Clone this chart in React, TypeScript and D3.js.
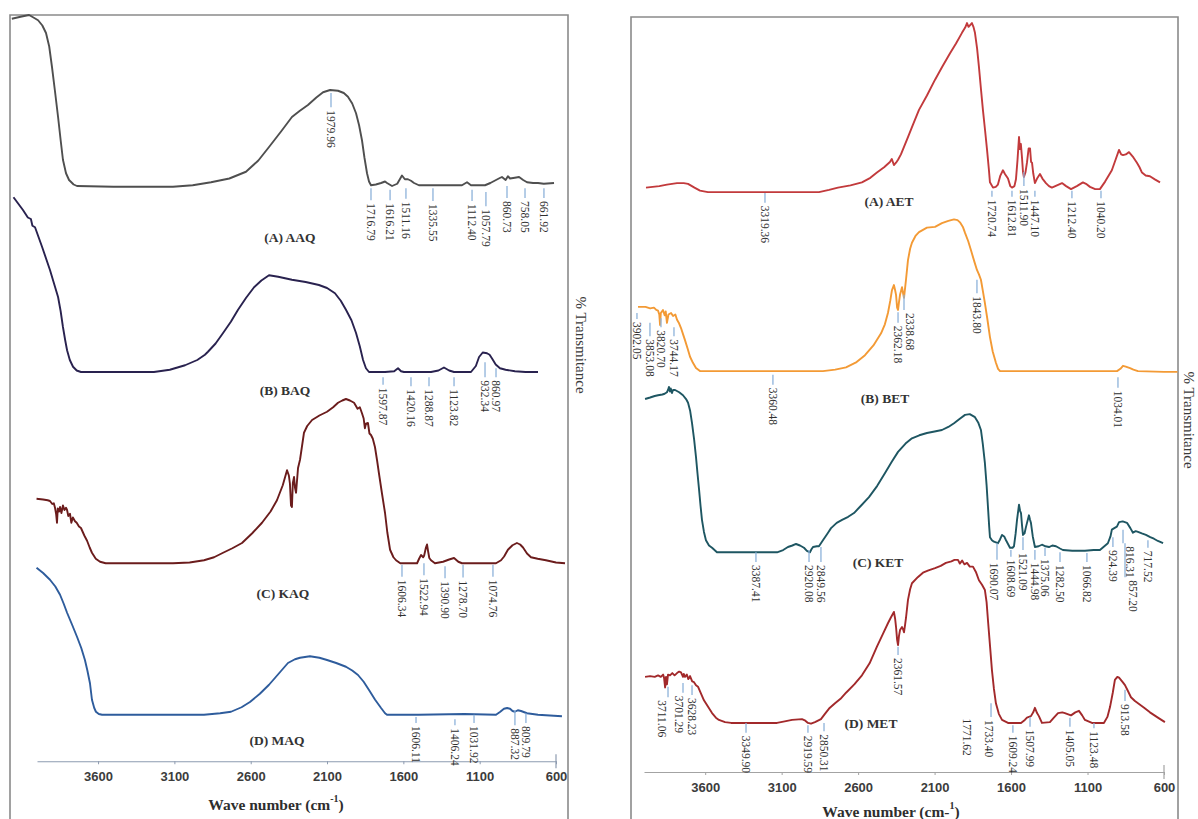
import { useRef, useEffect } from 'react';
import * as d3 from 'd3';

type Pt = [number, number];
// [label, wavenumber of tick, tick top, tick bottom, wavenumber of label if shifted]
type Peak = [string, number, number, number, number?];

const WAVE_TICKS = [3600, 3100, 2600, 2100, 1600, 1100, 600];

// ---- left panel: aqueous extracts ----
const AAQ: Pt[] = [
  [4165, 99.5], [4100, 99.8], [4052, 100], [4026, 99.7], [3993, 99.3], [3965, 98.6], [3941, 97.6], [3920, 95.8],
  [3902, 93.1], [3882, 89.8], [3862, 86.4], [3845, 83.3], [3830, 80.7], [3810, 78.9], [3790, 78], [3760, 77.4],
  [3738, 77.2], [3500, 77.1], [3300, 77.1], [3109, 77.1], [2980, 77.3], [2860, 77.7], [2740, 78.2], [2631, 79.1],
  [2550, 80.6], [2480, 82.4], [2400, 84.5], [2330, 86.4], [2280, 87.2], [2225, 88], [2170, 89], [2126, 89.7],
  [2080, 90], [2028, 89.9], [1990, 89.6], [1963, 89.1], [1935, 88.2], [1910, 86.9], [1890, 85.3], [1871, 83.3],
  [1855, 81], [1838, 78.9], [1825, 77.8], [1812, 77.3], [1780, 77.4], [1746, 77.6], [1720, 77.8], [1707, 77.6],
  [1674, 77.2], [1640, 77.5], [1609, 78.6], [1590, 78.1], [1570, 78.1], [1550, 77.9], [1530, 77.6], [1498, 77.3],
  [1400, 77.3], [1300, 77.3], [1216, 77.3], [1183, 77.7], [1157, 77.3], [1065, 77.3], [1030, 77.6], [993, 78],
  [965, 78.3], [954, 78.4], [930, 78], [915, 78.5], [901, 78.2], [870, 78.3], [842, 78.4], [815, 78], [790, 77.7],
  [750, 77.6], [718, 77.6], [680, 77.5], [613, 77.6],
];
const BAQ: Pt[] = [
  [4154, 75.7], [4092, 74], [4060, 73], [4040, 72.8], [4030, 71.9], [4013, 71.7], [3967, 69.1], [3915, 66],
  [3890, 64.3], [3862, 62.4], [3845, 60.5], [3830, 58.4], [3815, 56.6], [3803, 55.3], [3785, 54], [3764, 53.1],
  [3740, 52.6], [3712, 52.4], [3500, 52.4], [3234, 52.4], [3130, 52.7], [3030, 53.3], [2950, 54], [2900, 54.7],
  [2880, 55.1], [2830, 56.2], [2781, 57.6], [2730, 59.1], [2683, 60.7], [2630, 62.3], [2578, 63.7], [2530, 64.6],
  [2480, 65.3], [2420, 65.1], [2330, 64.7], [2240, 64.4], [2153, 64], [2100, 63.6], [2048, 62.9], [2010, 61.9],
  [1976, 60.7], [1940, 59.3], [1910, 57.6], [1885, 55.8], [1864, 54], [1845, 52.9], [1825, 52.4], [1720, 52.4],
  [1660, 52.5], [1635, 52.9], [1615, 52.5], [1596, 52.4], [1419, 52.4], [1370, 52.6], [1334, 53], [1300, 52.6],
  [1268, 52.4], [1157, 52.4], [1125, 53.2], [1104, 54.4], [1080, 55], [1052, 54.9], [1035, 54.7], [1019, 54.2],
  [995, 53.4], [967, 52.9], [930, 52.7], [869, 52.5], [800, 52.4], [718, 52.4],
];
const KAQ: Pt[] = [
  [4003, 35.5], [3960, 35.4], [3930, 35.3], [3915, 35.2], [3900, 34.8], [3890, 34.9], [3882, 34.3], [3875, 33.5],
  [3869, 32.3], [3864, 34.2], [3855, 33.8], [3849, 34.4], [3840, 33.6], [3830, 34.6], [3820, 34], [3810, 34.3],
  [3803, 34], [3795, 33.2], [3784, 33.5], [3775, 32.3], [3765, 33], [3751, 32.5], [3740, 32.3], [3725, 31.8],
  [3712, 31.6], [3690, 30.6], [3672, 29.9], [3655, 29], [3640, 28.3], [3615, 27.5], [3587, 27.1], [3550, 26.9],
  [3509, 26.9], [3300, 26.9], [3109, 26.9], [3000, 27], [2906, 27.3], [2840, 27.7], [2781, 28.3], [2720, 28.9],
  [2657, 29.6], [2590, 30.9], [2526, 32.3], [2470, 33.8], [2428, 35.3], [2390, 37.3], [2362, 39.3], [2350, 38.6],
  [2343, 37.5], [2336, 34.6], [2330, 34.4], [2324, 37.6], [2316, 38.4], [2310, 37], [2303, 36.3], [2290, 39.6],
  [2277, 40.7], [2264, 42.5], [2251, 44.3], [2230, 45.2], [2198, 46], [2150, 46.6], [2100, 47.1], [2060, 47.7],
  [2028, 48.3], [2000, 48.6], [1976, 48.8], [1950, 48.6], [1923, 48.3], [1900, 47.5], [1885, 47.7], [1871, 46.9],
  [1860, 46.2], [1852, 44.9], [1845, 45.5], [1832, 45.6], [1822, 44.2], [1812, 44], [1800, 43.5], [1786, 42.4],
  [1772, 40.6], [1760, 38.9], [1740, 36.2], [1720, 33.6], [1705, 31], [1687, 28.7], [1665, 27.7], [1648, 27.3],
  [1620, 26.9], [1596, 26.9], [1510, 26.9], [1497, 27.5], [1484, 28], [1470, 27.7], [1464, 27.9], [1452, 29],
  [1445, 29.4], [1438, 28.5], [1430, 27.6], [1419, 27.3], [1393, 26.9], [1340, 27.1], [1300, 27.4], [1268, 27.6],
  [1240, 27.1], [1216, 26.9], [1100, 26.9], [993, 26.9], [960, 27.3], [940, 27.8], [915, 28.7], [885, 29.3],
  [856, 29.6], [835, 29.4], [816, 29], [790, 28.2], [764, 27.7], [720, 27.5], [666, 27.3], [600, 27], [541, 26.9],
];
const MAQ: Pt[] = [
  [4003, 26.3], [3960, 25.6], [3915, 24.7], [3880, 23.8], [3849, 22.7], [3825, 21.5], [3803, 20.3], [3770, 18.7],
  [3738, 17.1], [3710, 15.6], [3686, 14], [3670, 12.6], [3653, 10.9], [3640, 8.7], [3625, 7.6], [3614, 7.1],
  [3595, 6.8], [3574, 6.7], [3300, 6.7], [2906, 6.7], [2800, 6.9], [2729, 7.1], [2660, 7.7], [2605, 8.4],
  [2540, 9.5], [2480, 10.7], [2420, 12.1], [2356, 13.6], [2310, 14.1], [2277, 14.3], [2212, 14.5], [2150, 14.3],
  [2100, 14], [2040, 13.6], [1976, 13.1], [1935, 12.6], [1897, 12], [1860, 11.1], [1825, 10], [1785, 8.7],
  [1746, 7.6], [1720, 6.9], [1707, 6.7], [1500, 6.7], [1200, 6.8], [993, 6.7], [965, 7.1], [941, 7.5], [920, 7.6],
  [901, 7.5], [885, 7.2], [869, 7.1], [850, 7.3], [829, 7.2], [790, 6.9], [718, 6.7], [640, 6.6], [561, 6.5],
];

const AAQ_PEAKS: Peak[] = [
  ['1979.96', 2074, 89.6, 87.7], ['1716.79', 1812, 76.9, 75.3], ['1616.21', 1687, 76.7, 75.3],
  ['1511.16', 1583, 76.9, 75.5], ['1335.55', 1406, 76.9, 75.2], ['1112.40', 1150, 76.7, 75.2],
  ['1057.79', 1059, 76.4, 74.5], ['860.73', 921, 77.2, 75.6], ['758.05', 803, 76.9, 75.6], ['661.92', 679, 76.9, 75.6],
];
const BAQ_PEAKS: Peak[] = [
  ['1597.87', 1733, 51.7, 50.7], ['1420.16', 1550, 51.7, 50.5], ['1288.87', 1432, 51.7, 50.5],
  ['1123.82', 1268, 51.7, 50.5], ['932.34', 1065, 53.7, 51.7], ['860.97', 993, 52.9, 51.7],
];
const KAQ_PEAKS: Peak[] = [
  ['1606.34', 1609, 26.7, 25.1], ['1522.94', 1465, 26.9, 25.3], ['1390.90', 1327, 26.5, 24.9],
  ['1278.70', 1209, 26.7, 25.0], ['1074.76', 1013, 26.7, 25.1],
];
const MAQ_PEAKS: Peak[] = [
  ['1606.11', 1517, 6.4, 5.6], ['1406.24', 1262, 6.1, 5.3], ['1031.92', 1137, 6.7, 5.6],
  ['887.32', 869, 7.3, 5.3], ['809.79', 797, 6.9, 5.6],
];

// ---- right panel: ethanolic extracts ----
const AET: Pt[] = [
  [3987, 77.4], [3900, 77.6], [3850, 77.8], [3784, 78], [3740, 78], [3712, 77.9], [3670, 77.4], [3634, 77],
  [3582, 76.8], [3300, 76.8], [3000, 76.8], [2856, 76.8], [2790, 77.1], [2732, 77.4], [2650, 77.7], [2575, 78.1],
  [2520, 78.7], [2477, 79.4], [2430, 80.1], [2392, 80.8], [2380, 81.2], [2366, 80.4], [2352, 80.7], [2339, 81.1],
  [2320, 81.8], [2300, 82.8], [2274, 84.1], [2240, 85.8], [2202, 87.7], [2150, 89.6], [2097, 91.7], [2050, 93.4],
  [1999, 95.2], [1960, 96.5], [1921, 97.9], [1900, 98.6], [1888, 99.2], [1878, 98.7], [1869, 98.9], [1856, 99.2],
  [1846, 98.7], [1836, 97.9], [1822, 95.8], [1810, 93.4], [1797, 90.5], [1784, 87.7], [1770, 85], [1757, 82.4],
  [1745, 79.8], [1738, 78.1], [1718, 77.4], [1700, 77.5], [1686, 77.8], [1670, 79], [1653, 79.7], [1640, 79.2],
  [1620, 78.6], [1605, 77.6], [1594, 77.4], [1578, 77.6], [1568, 78.5], [1558, 81], [1548, 84.1], [1542, 82.5],
  [1536, 83.2], [1529, 81.5], [1522, 79.5], [1516, 78.8], [1506, 79.4], [1496, 80.7], [1485, 82.6], [1476, 82.6],
  [1469, 80.8], [1463, 80.7], [1455, 79.3], [1444, 78], [1430, 78.6], [1411, 79.2], [1395, 78.6], [1372, 78],
  [1352, 77.6], [1333, 77.4], [1300, 77.7], [1267, 78], [1240, 77.6], [1208, 77.2], [1170, 77.6], [1130, 78.1],
  [1110, 77.9], [1084, 77.5], [1050, 77.2], [1019, 77.2], [985, 78.2], [941, 79.7], [915, 81.2], [894, 82.4],
  [880, 81.8], [868, 81.7], [850, 81.8], [829, 82.1], [800, 81.4], [777, 80.7], [760, 80.1], [744, 79.4],
  [720, 79], [692, 78.9], [660, 78.5], [626, 78.1],
];
const BET: Pt[] = [
  [4039, 61.6], [3990, 61.6], [3960, 61.4], [3935, 61.5], [3920, 61.2], [3908, 61.1], [3900, 60.6], [3895, 59.2],
  [3890, 60.8], [3876, 61.2], [3865, 60.5], [3858, 61], [3850, 59.5], [3840, 60.6], [3823, 60.8], [3810, 60.4],
  [3795, 60.6], [3784, 59.9], [3770, 59.4], [3758, 58.8], [3745, 58], [3732, 57.2], [3715, 56.1], [3699, 55],
  [3680, 54.2], [3660, 53.5], [3634, 53.1], [3300, 53.1], [2830, 53.1], [2750, 53.3], [2679, 53.6], [2610, 54.3],
  [2555, 55.2], [2500, 56.5], [2450, 58.1], [2425, 59.3], [2405, 60.8], [2390, 62.4], [2379, 63.8], [2366, 64.5],
  [2358, 63.8], [2352, 63.2], [2345, 61.5], [2339, 61.2], [2333, 62.2], [2326, 63.2], [2313, 64.2], [2306, 63.4],
  [2300, 62.8], [2293, 64.1], [2287, 65.2], [2274, 67.8], [2260, 69.3], [2248, 70.1], [2225, 71], [2202, 71.5],
  [2150, 72.1], [2097, 72.2], [2052, 72.7], [2010, 73], [1973, 73.2], [1950, 73.1], [1934, 72.8], [1915, 72.2],
  [1901, 71.4], [1880, 70.3], [1862, 69.1], [1840, 67.6], [1823, 66.5], [1810, 65.9], [1797, 65.2], [1785, 63.8],
  [1771, 62.1], [1755, 60], [1738, 57.6], [1720, 55.7], [1699, 54.2], [1685, 53.4], [1672, 53.1], [1300, 53.1],
  [907, 53.1], [885, 53.4], [868, 53.8], [850, 53.7], [822, 53.5], [800, 53.3], [770, 53.1], [600, 53.0], [512, 53.0],
];
const KET: Pt[] = [
  [3993, 49.4], [3960, 49.6], [3930, 49.8], [3908, 49.9], [3880, 50], [3865, 50.1], [3850, 50.3], [3843, 50.6],
  [3837, 51], [3830, 50.4], [3825, 50.8], [3817, 50.2], [3810, 50.6], [3797, 50.6], [3770, 50.3], [3745, 49.9],
  [3725, 49.4], [3712, 48.9], [3698, 47.8], [3686, 46.2], [3672, 44], [3660, 41.7], [3650, 39.5], [3640, 37.4],
  [3630, 35.2], [3621, 33.4], [3608, 31.8], [3595, 30.7], [3575, 30], [3555, 29.7], [3523, 29.1], [3300, 29.1],
  [3130, 29.1], [3090, 29.4], [3059, 29.8], [3030, 30], [3006, 30.2], [2980, 30], [2954, 29.7], [2935, 29.3],
  [2915, 29.1], [2905, 29.5], [2895, 29.8], [2870, 29.9], [2856, 29.9], [2843, 30.3], [2830, 30.7], [2800, 31.6],
  [2777, 32.3], [2740, 33], [2705, 33.4], [2665, 33.8], [2627, 34.3], [2580, 35.3], [2529, 36.4], [2475, 37.9],
  [2424, 39.6], [2380, 41.1], [2339, 42.4], [2290, 43.5], [2248, 44.2], [2200, 44.6], [2150, 44.9], [2100, 45.1],
  [2052, 45.3], [2010, 45.7], [1973, 46.2], [1935, 46.8], [1901, 47.3], [1870, 47.4], [1836, 47], [1815, 46.3],
  [1797, 45.3], [1785, 43.5], [1771, 40.9], [1760, 38], [1751, 35.1], [1743, 32.5], [1738, 31.1], [1725, 30.7],
  [1712, 30.5], [1686, 30.3], [1672, 30.8], [1659, 31.4], [1645, 31.2], [1633, 30.7], [1607, 29.7], [1590, 29.7],
  [1581, 29.9], [1570, 31.6], [1561, 33.4], [1548, 35.4], [1541, 34.6], [1535, 34.3], [1528, 32.6], [1522, 31.4],
  [1512, 31.6], [1502, 32.5], [1483, 34], [1476, 33.4], [1470, 33], [1458, 31.2], [1444, 29.8], [1420, 29.9],
  [1398, 30.1], [1375, 29.9], [1352, 29.8], [1330, 30], [1306, 29.9], [1280, 29.6], [1261, 29.4], [1200, 29.3],
  [1117, 29.3], [1060, 29.4], [1019, 29.4], [990, 29.9], [967, 30.3], [950, 31.2], [941, 32.1], [925, 32.3],
  [908, 32.5], [894, 33.1], [870, 33.2], [842, 33], [820, 32.3], [803, 31.7], [785, 31.9], [770, 31.8],
  [745, 31.6], [718, 31.4], [690, 31.1], [666, 30.9], [640, 30.6], [606, 30.3],
];
const MET: Pt[] = [
  [3993, 12.6], [3960, 12.7], [3930, 12.6], [3908, 12.8], [3890, 12.6], [3875, 12.9], [3869, 12.5], [3862, 11.2],
  [3856, 12.6], [3850, 11.6], [3843, 12.9], [3830, 12.8], [3815, 13.1], [3800, 12.8], [3784, 13.1], [3770, 13.3],
  [3758, 13.2], [3745, 12.6], [3740, 13], [3732, 12.6], [3720, 12.9], [3710, 12.3], [3699, 12.7], [3685, 12],
  [3673, 11.9], [3660, 11.5], [3647, 11.3], [3630, 10.5], [3608, 9.5], [3580, 8.6], [3555, 7.8], [3530, 7.2],
  [3510, 6.9], [3470, 6.6], [3431, 6.5], [3130, 6.5], [3080, 6.7], [3032, 6.9], [2967, 7], [2945, 6.8],
  [2928, 6.5], [2908, 6.4], [2882, 6.6], [2843, 7], [2817, 7.7], [2790, 8.4], [2751, 9.1], [2715, 9.7],
  [2679, 10.5], [2625, 11.6], [2575, 12.8], [2525, 14.4], [2477, 16.6], [2440, 18.2], [2405, 19.7], [2385, 20.5],
  [2366, 21.2], [2358, 20.3], [2352, 19.2], [2345, 17.5], [2339, 16.8], [2333, 18], [2326, 18.8], [2313, 19.2],
  [2306, 18.9], [2300, 18.5], [2293, 19.5], [2287, 20.4], [2274, 22.8], [2260, 24.2], [2248, 25], [2210, 25.8],
  [2176, 26.4], [2140, 26.7], [2097, 27], [2060, 27.3], [2026, 27.7], [1990, 27.9], [1970, 28.1], [1947, 28.1],
  [1935, 27.6], [1920, 28], [1905, 27.5], [1888, 27.7], [1870, 27.2], [1849, 27.2], [1830, 26.5], [1810, 25.4],
  [1790, 24.8], [1771, 24.1], [1760, 22.5], [1751, 20.1], [1738, 16.8], [1725, 13.5], [1712, 11], [1699, 9.1],
  [1680, 7.7], [1659, 6.9], [1620, 6.5], [1535, 6.5], [1510, 6.9], [1496, 7.2], [1470, 7.4], [1455, 7.9],
  [1444, 8.5], [1430, 7.8], [1418, 7.4], [1398, 6.5], [1346, 6.6], [1320, 7.2], [1293, 7.8], [1265, 7.9],
  [1248, 7.8], [1208, 7.5], [1180, 7.9], [1156, 8.1], [1135, 7.5], [1117, 6.9], [1071, 6.5], [993, 6.5],
  [970, 7.3], [953, 8.6], [935, 10.5], [921, 12.2], [905, 12.6], [894, 12.5], [870, 11.9], [855, 11.5],
  [835, 10.7], [816, 9.9], [790, 9.4], [770, 9.1], [730, 8.5], [692, 7.9], [640, 7.2], [594, 6.6],
];

const AET_PEAKS: Peak[] = [
  ['3319.36', 3209, 76.7, 75.4], ['1720.74', 1725, 77.0, 76.2], ['1612.81', 1594, 77.0, 76.2],
  ['1511.90', 1516, 79.5, 77.6], ['1447.10', 1444, 77.0, 76.2], ['1212.40', 1202, 77.0, 76.0],
  ['1040.20', 1012, 77.0, 76.0],
];
const BET_PEAKS: Peak[] = [
  ['3902.05', 4046, 60.8, 60.0], ['3853.08', 3961, 59.5, 57.7], ['3820.70', 3889, 60.1, 58.9],
  ['3744.17', 3804, 58.9, 57.7], ['2362.18', 2339, 60.9, 59.5], ['2338.68', 2300, 63.2, 61.2, 2261],
  ['1843.80', 1823, 65.2, 63.4], ['3360.48', 3157, 52.6, 51.3], ['1034.01', 901, 52.3, 50.9],
];
const KET_PEAKS: Peak[] = [
  ['3387.41', 3268, 29.1, 27.8], ['2920.08', 2921, 29.4, 27.8], ['2849.56', 2843, 29.8, 27.8],
  ['1690.07', 1692, 30.3, 28.1, 1712], ['1608.69', 1601, 29.4, 28.5], ['1521.09', 1522, 31.1, 29.4],
  ['1444.98', 1444, 29.4, 28.1], ['1375.06', 1378, 29.7, 28.6], ['1282.50', 1280, 29.1, 27.8],
  ['1066.82', 1104, 29.0, 27.8], ['924.39', 934, 31.1, 29.8], ['816.31', 868, 32.1, 30.3, 822],
  ['857.20', 855, 30.3, 25.8, 803], ['717.52', 705, 30.7, 29.7],
];
const MET_PEAKS: Peak[] = [
  ['3711.06', 3843, 11.3, 9.9, 3882], ['3701.29', 3745, 11.8, 10.5, 3771], ['3628.23', 3686, 11.5, 10.2],
  ['3349.90', 3333, 6.5, 5.2], ['2919.59', 2928, 6.2, 5.2], ['2850.31', 2823, 6.5, 5.4],
  ['2361.57', 2339, 16.6, 15.5], ['1771.62', 1888, 7.5, 7.5], ['1733.40', 1731, 9.1, 7.3, 1745],
  ['1609.24', 1588, 6.2, 5.2], ['1507.99', 1476, 7.3, 6.0], ['1405.05', 1215, 7.2, 6.0],
  ['1123.48', 1058, 6.5, 5.8], ['913.58', 855, 10.9, 9.4],
];

// series tag: [text, wavenumber, transmittance]
const TAGS_LEFT: [string, number, number][] = [
  ['(A) AAQ', 2343, 70.4], ['(B) BAQ', 2375, 49.9], ['(C) KAQ', 2389, 22.9], ['(D) MAQ', 2428, 3.3],
];
const TAGS_RIGHT: [string, number, number][] = [
  ['(A) AET', 2398, 75.5], ['(B) BET', 2424, 49.5], ['(C) KET', 2470, 27.8], ['(D) MET', 2516, 6.4],
];

const SERIF = "'Liberation Serif', 'Times New Roman', serif";
const SANS = "'Liberation Sans', Arial, sans-serif";

const PANELS = [
  {
    frame: { x0: 10, x1: 568, top: 15 },
    xr: [37, 556], yr: [765, 15], axisV: 0.5, axisColor: '#8d9bb0',
    title: { x: 276, y: 804, sup: '-1', pre: '(cm', post: ')' },
    tags: TAGS_LEFT,
    series: [
      { data: AAQ, peaks: AAQ_PEAKS, color: '#4f4f4f' },
      { data: BAQ, peaks: BAQ_PEAKS, color: '#29224f' },
      { data: KAQ, peaks: KAQ_PEAKS, color: '#6b1c1c' },
      { data: MAQ, peaks: MAQ_PEAKS, color: '#2e5c9c' },
    ],
  },
  {
    frame: { x0: 631, x1: 1178, top: 17 },
    xr: [644, 1164], yr: [772, 17], axisV: 0, axisColor: '#a3a3a3',
    title: { x: 891, y: 811, sup: '1', pre: '(cm-', post: ')' },
    tags: TAGS_RIGHT,
    series: [
      { data: AET, peaks: AET_PEAKS, color: '#c23a3c' },
      { data: BET, peaks: BET_PEAKS, color: '#f39a35' },
      { data: KET, peaks: KET_PEAKS, color: '#1e5662' },
      { data: MET, peaks: MET_PEAKS, color: '#a2292b' },
    ],
  },
];

export default function App() {
  const svgRef = useRef<SVGSVGElement>(null);

  useEffect(() => {
    document.body.style.margin = '0';
    if (!svgRef.current) return;
    const svg = d3.select(svgRef.current);
    svg.selectAll('*').remove();

    svg.append('rect').attr('width', 1198).attr('height', 819).attr('fill', '#fff');

    PANELS.forEach((p) => {
      const x = d3.scaleLinear().domain([4000, 600]).range(p.xr);
      const y = d3.scaleLinear().domain([0, 100]).range(p.yr);
      const g = svg.append('g');

      // frame (open at the bottom, runs off the page)
      g.append('path')
        .attr('d', `M${p.frame.x0},830V${p.frame.top}H${p.frame.x1}V830`)
        .attr('fill', 'none')
        .attr('stroke', '#8a8a8a')
        .attr('stroke-width', 1.6);

      // x axis
      const ay = y(p.axisV);
      const axis = g.append('g')
        .attr('transform', `translate(0,${ay})`)
        .call(d3.axisBottom(x).tickValues(WAVE_TICKS).tickSize(3).tickSizeOuter(0).tickFormat((d) => `${d}`));
      axis.select('.domain').attr('stroke', p.axisColor).attr('stroke-width', 1.2);
      axis.selectAll('.tick line').attr('stroke', p.axisColor);
      axis.selectAll('.tick text')
        .attr('font-family', SANS).attr('font-weight', 'bold').attr('font-size', 13)
        .attr('fill', '#3c3c3c').attr('dy', '1.05em');
      g.append('line')
        .attr('x1', x(600)).attr('x2', x(600))
        .attr('y1', ay - 7).attr('y2', ay + 7)
        .attr('stroke', p.axisColor).attr('stroke-width', 1.2);

      const title = g.append('text')
        .attr('x', p.title.x).attr('y', p.title.y)
        .attr('text-anchor', 'middle').attr('dominant-baseline', 'central')
        .attr('font-family', SERIF).attr('font-weight', 'bold').attr('font-size', 15.5)
        .attr('fill', '#2e2e2e');
      title.append('tspan').text(`Wave number  ${p.title.pre}`);
      title.append('tspan').attr('baseline-shift', 'super').attr('font-size', 10).text(p.title.sup);
      title.append('tspan').text(p.title.post);

      // spectra
      const line = d3.line<Pt>().x((d) => x(d[0])).y((d) => y(d[1]));
      p.series.forEach((s) => {
        g.append('path')
          .datum(s.data)
          .attr('fill', 'none')
          .attr('stroke', s.color)
          .attr('stroke-width', 1.9)
          .attr('stroke-linejoin', 'round')
          .attr('d', line);

        // peak markers
        s.peaks.forEach(([label, w, vt, vb, lw]) => {
          if (vt !== vb) {
            g.append('line')
              .attr('x1', x(w)).attr('x2', x(w))
              .attr('y1', y(vt)).attr('y2', y(vb))
              .attr('stroke', '#8db2da').attr('stroke-width', 1.3);
          }
          const lx = x(lw ?? w);
          const ly = y(vb) + 3;
          g.append('text')
            .attr('transform', `translate(${lx},${ly}) rotate(90)`)
            .attr('dominant-baseline', 'central')
            .attr('font-family', SERIF).attr('font-size', 11.5)
            .attr('fill', '#303030')
            .text(label);
        });
      });

      // sample tags
      g.selectAll('text.tag')
        .data(p.tags)
        .join('text')
        .attr('class', 'tag')
        .attr('x', (d) => x(d[1])).attr('y', (d) => y(d[2]))
        .attr('text-anchor', 'middle').attr('dominant-baseline', 'central')
        .attr('font-family', SERIF).attr('font-weight', 'bold').attr('font-size', 13.5)
        .attr('fill', '#333')
        .text((d) => d[0]);
    });

    // y titles
    [[581, 345], [1189, 420]].forEach(([tx, ty]) => {
      svg.append('text')
        .attr('transform', `translate(${tx},${ty}) rotate(90)`)
        .attr('text-anchor', 'middle').attr('dominant-baseline', 'central')
        .attr('font-family', SERIF).attr('font-size', 15)
        .attr('fill', '#3a3a3a')
        .text('% Transmitance');
    });
  }, []);

  return <svg ref={svgRef} width={1198} height={819} style={{ display: 'block' }} />;
}
